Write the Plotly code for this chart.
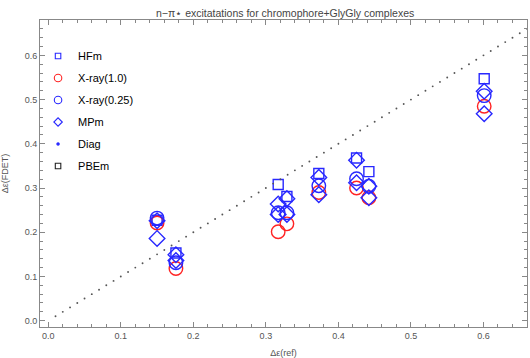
import plotly.graph_objects as go

# ---- data ----
x_ref = [0.150, 0.176, 0.317, 0.329, 0.373, 0.425, 0.442, 0.601]
hfm = [0.227, 0.153, 0.308, 0.281, 0.333, 0.368, 0.337, 0.547]
xray_10 = [0.221, 0.118, 0.201, 0.219, 0.290, 0.300, 0.278, 0.485]
xray_025 = [0.232, 0.131, 0.244, 0.244, 0.305, 0.321, 0.304, 0.509]
mpm = [0.186, 0.136, 0.240, 0.240, 0.285, 0.312, 0.278, 0.468]
pbem = [0.226, 0.149, 0.264, 0.276, 0.324, 0.363, 0.304, 0.519]
diag = [0.01, 0.02, 0.03, 0.04, 0.05, 0.06, 0.07, 0.08, 0.09, 0.10,
        0.11, 0.12, 0.13, 0.14, 0.15, 0.16, 0.17, 0.18, 0.19, 0.20,
        0.21, 0.22, 0.23, 0.24, 0.25, 0.26, 0.27, 0.28, 0.29, 0.30,
        0.31, 0.32, 0.33, 0.34, 0.35, 0.36, 0.37, 0.38, 0.39, 0.40,
        0.41, 0.42, 0.43, 0.44, 0.45, 0.46, 0.47, 0.48, 0.49, 0.50,
        0.51, 0.52, 0.53, 0.54, 0.55, 0.56, 0.57, 0.58, 0.59, 0.60,
        0.61, 0.62, 0.63, 0.64, 0.65, 0.66]

BLUE = "rgb(40,40,255)"
RED = "rgb(255,35,35)"
GREY = "#555555"
FONT = "Liberation Sans, Arial"

fig = go.Figure()

def pts(y, symbol, color, size, name):
    fig.add_trace(go.Scatter(
        x=x_ref, y=y, mode="markers", name=name, showlegend=False,
        marker=dict(symbol=symbol, size=size, color=color,
                    line=dict(color=color, width=1.4))))

pts(hfm, "square-open", BLUE, 10, "HFm")
pts(xray_10, "circle-open", RED, 13.5, "X-ray(1.0)")
pts(xray_025, "circle-open", BLUE, 13.5, "X-ray(0.25)")
pts(mpm, "diamond-open", BLUE, 12, "MPm")
fig.add_trace(go.Scatter(x=diag, y=diag, mode="markers", name="Diag",
                         showlegend=False,
                         marker=dict(size=1.9, color="#555555")))
pts(pbem, "diamond-open", BLUE, 12, "PBEm")

# legend entries
legend_items = [
    ("HFm", "square-open", BLUE, 5.5),
    ("X-ray(1.0)", "circle-open", RED, 7.5),
    ("X-ray(0.25)", "circle-open", BLUE, 7.5),
    ("MPm", "diamond-open", BLUE, 6.5),
    ("Diag", "circle", BLUE, 2.3),
    ("PBEm", "square-open", "#222222", 5.5),
]
for i, (nm, sym, col, sz) in enumerate(legend_items):
    fig.add_trace(go.Scatter(
        x=[None], y=[None], mode="markers", name=nm, legendgroup=f"g{i}",
        marker=dict(symbol=sym, size=sz, color=col,
                    line=dict(color=col, width=1.1))))

axis_common = dict(
    showgrid=False, zeroline=False, showline=True, linecolor="#888888",
    linewidth=1, mirror="allticks", ticks="inside", ticklen=5,
    tickcolor="#888888", tickwidth=1, automargin=False,
    tickfont=dict(family=FONT, size=9, color=GREY),
    minor=dict(ticks="inside", ticklen=3, tickcolor="#888888", dtick=0.02),
)

fig.update_xaxes(range=[-0.0114, 0.660], dtick=0.1, tick0=0, tickformat=".1f",
                 title=dict(text="Δε(ref)",
                            font=dict(family=FONT, size=9, color=GREY)),
                 **axis_common)
fig.update_yaxes(range=[-0.0143, 0.680], dtick=0.1, tick0=0, tickformat=".1f",
                 title=dict(text="Δε(FDET)",
                            font=dict(family=FONT, size=9, color=GREY)),
                 **axis_common)

fig.update_layout(
    width=530, height=358,
    margin=dict(l=40, r=3, t=20, b=31),
    paper_bgcolor="white", plot_bgcolor="white",
    title=dict(text="n−π⋆ excitatations for chromophore+GlyGly complexes",
               x=0.538, xanchor="center", y=0.962, yanchor="middle",
               font=dict(family=FONT, size=10.5, color="#444444")),
    legend=dict(x=-0.004, y=0.93, xanchor="left", yanchor="top",
                bgcolor="rgba(0,0,0,0)", tracegroupgap=3,
                font=dict(family=FONT, size=11, color="black")),
    showlegend=True,
)

fig.write_html("out.html", config={"displayModeBar": False},
               post_script="document.body.style.margin='0px';")
